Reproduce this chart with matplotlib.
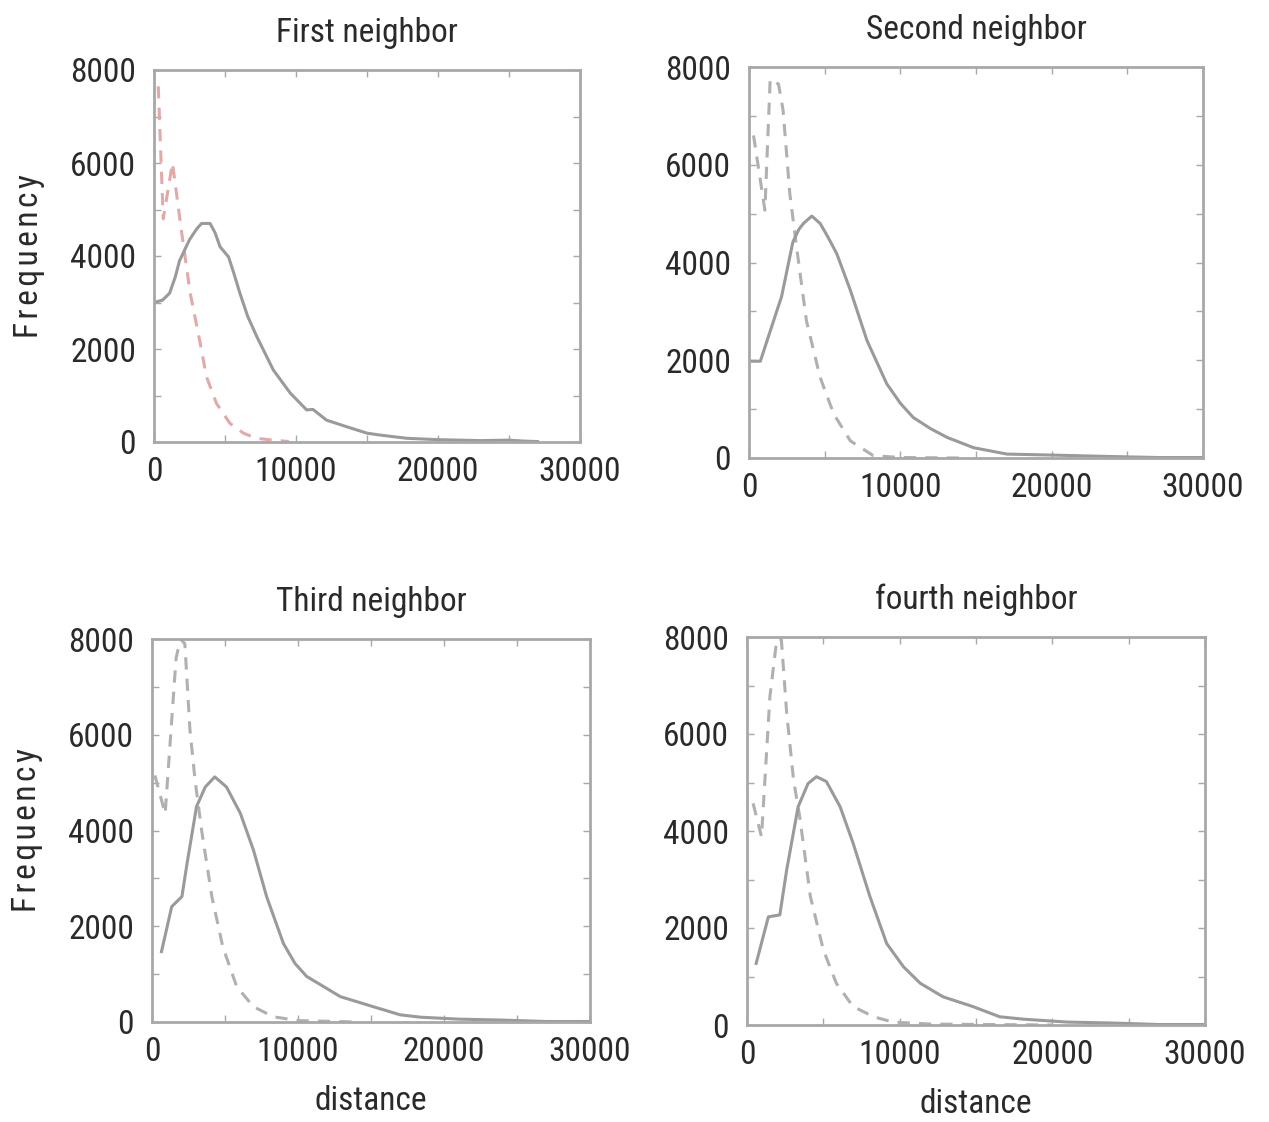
import matplotlib
matplotlib.use("Agg")
import matplotlib.pyplot as plt
from matplotlib.ticker import MultipleLocator
from matplotlib import font_manager

names = {f.name for f in font_manager.fontManager.ttflist}
FONT = ["Liberation Sans Narrow"] if "Liberation Sans Narrow" in names else ["Roboto Condensed"] if "Roboto Condensed" in names else ["Liberation Sans"]
plt.rcParams['font.family'] = FONT + ["DejaVu Sans"]

titles = ["First neighbor", "Second neighbor", "Third neighbor", "fourth neighbor"]

# Panel 1
p1_solid_x = [0, 600, 1100, 1500, 1800, 2500, 3000, 3350, 3950, 4300, 4650, 5250, 5600, 6050, 6600, 7250, 8400, 9600, 10750, 11200, 12150, 13550, 15000, 15900, 17800, 20000, 23000, 25000, 26000, 27000]
p1_solid_y = [3000, 3050, 3200, 3550, 3900, 4350, 4580, 4700, 4700, 4500, 4200, 3980, 3650, 3200, 2700, 2260, 1550, 1050, 690, 700, 470, 330, 190, 150, 80, 50, 30, 40, 20, 10]
p1_dash_x = [300, 650, 1300, 1950, 2550, 3250, 3700, 4400, 5350, 6300, 7200, 8400, 9500]
p1_dash_y = [7650, 4800, 6000, 4500, 3200, 2130, 1400, 830, 400, 190, 80, 40, 10]

# Panel 2
p2_solid_x = [200, 750, 1850, 2150, 2900, 3300, 3600, 4150, 4700, 5200, 5800, 6700, 7800, 9100, 10000, 10850, 12000, 13100, 14850, 17050, 20000, 24000, 27000, 30000]
p2_solid_y = [1980, 1980, 3020, 3300, 4420, 4680, 4800, 4950, 4800, 4530, 4180, 3430, 2400, 1520, 1120, 830, 600, 420, 210, 80, 60, 30, 10, 10]
p2_dash_x = [300, 1050, 1400, 1950, 2250, 2700, 3150, 3800, 4700, 5600, 6700, 8200, 10000, 14000]
p2_dash_y = [6600, 5070, 7750, 7650, 7120, 5400, 4300, 2800, 1650, 900, 350, 50, 10, 0]

# Panel 3
p3_solid_x = [650, 1350, 2050, 2400, 3050, 3650, 4300, 5100, 6050, 6950, 7850, 9000, 9800, 10600, 11700, 12900, 15150, 17000, 18400, 21000, 24000, 27000, 30000]
p3_solid_y = [1470, 2410, 2620, 3310, 4500, 4910, 5120, 4910, 4360, 3590, 2620, 1640, 1220, 950, 750, 530, 320, 150, 100, 60, 40, 10, 10]
p3_dash_x = [200, 900, 1650, 1950, 2250, 2600, 2950, 3400, 4100, 4850, 5800, 6950, 8300, 10000, 14000]
p3_dash_y = [5150, 4350, 7600, 8000, 7900, 6100, 5050, 4000, 2620, 1570, 740, 320, 110, 30, 0]

# Panel 4
p4_solid_x = [600, 1400, 2150, 2600, 3350, 4000, 4550, 5200, 6100, 6950, 8050, 9150, 10250, 11350, 12850, 14800, 16550, 18100, 21000, 24000, 27000, 30000]
p4_solid_y = [1270, 2230, 2270, 3200, 4500, 4980, 5120, 5020, 4500, 3750, 2650, 1680, 1200, 860, 580, 380, 170, 120, 60, 40, 10, 10]
p4_dash_x = [400, 950, 1500, 1950, 2250, 2600, 3050, 3450, 4150, 5000, 5850, 6950, 8300, 9550, 12000, 16000, 20000]
p4_dash_y = [4570, 3880, 6770, 7950, 7950, 6430, 5050, 4300, 2650, 1550, 860, 380, 170, 60, 20, 10, 0]

solids = [(p1_solid_x, p1_solid_y), (p2_solid_x, p2_solid_y), (p3_solid_x, p3_solid_y), (p4_solid_x, p4_solid_y)]
dashes = [(p1_dash_x, p1_dash_y), (p2_dash_x, p2_dash_y), (p3_dash_x, p3_dash_y), (p4_dash_x, p4_dash_y)]

W, H = 1269, 1122
# axes boxes in pixels: left, right, top, bottom
boxes = [(154, 580, 70, 442), (749, 1203, 67, 458), (152, 590, 639, 1022), (747, 1205, 637, 1025)]

fig = plt.figure(figsize=(W / 100, H / 100), dpi=100)
TXT = "#2a2a2a"
AX = "#a8a8a8"
dash_colors = ["#e2a9a9", "#b0b0b0", "#b0b0b0", "#b0b0b0"]

for i, (l, r, t, b) in enumerate(boxes):
    ax = fig.add_axes([l / W, (H - b) / H, (r - l) / W, (b - t) / H])
    sx, sy = solids[i]
    dx, dy = dashes[i]
    ax.plot(dx, dy, color=dash_colors[i], lw=2.2, dashes=(4, 3))
    ax.plot(sx, sy, color="#9a9a9a", lw=2.2)
    ax.set_xlim(0, 30000)
    ax.set_ylim(0, 8000)
    ax.xaxis.set_major_locator(MultipleLocator(10000))
    ax.xaxis.set_minor_locator(MultipleLocator(5000))
    ax.yaxis.set_major_locator(MultipleLocator(2000))
    ax.yaxis.set_minor_locator(MultipleLocator(1000))
    ax.tick_params(which="both", direction="in", top=True, right=True, length=5, width=1, color=AX)
    ax.tick_params(axis="y", labelsize=24, pad=13, labelcolor=TXT)
    ax.tick_params(axis="x", labelsize=24, pad=10, labelcolor=TXT)
    for s in ax.spines.values():
        s.set_color(AX)
        s.set_linewidth(2)
    ax.set_title(titles[i], fontsize=24, color=TXT, pad=20)
    if i in (0, 2):
        ax.set_ylabel("F\u200ar\u200ae\u200aq\u200au\u200ae\u200an\u200ac\u200ay", fontsize=24, color=TXT, labelpad=18)
    if i in (2, 3):
        ax.set_xlabel("distance", fontsize=24, color=TXT, labelpad=12)

fig.savefig("out.png", dpi=100)
